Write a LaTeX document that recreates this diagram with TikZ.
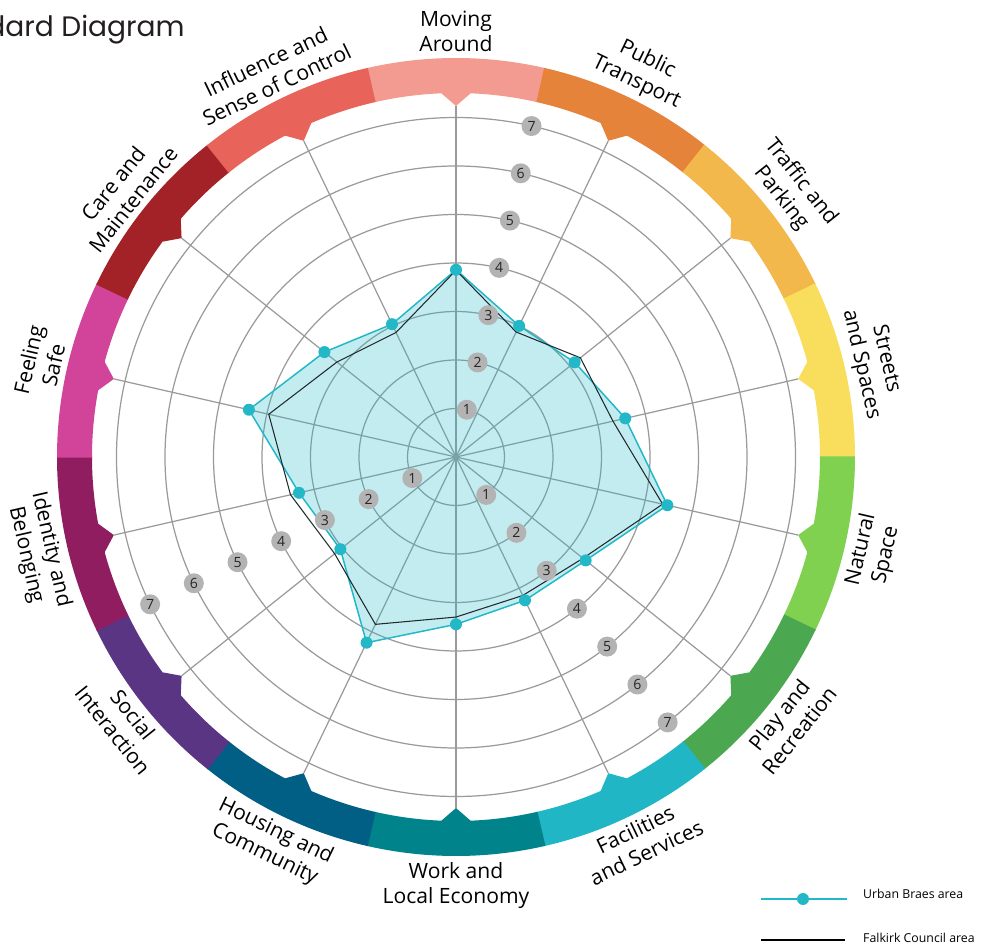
\documentclass[tikz,border=0pt]{standalone}
\usepackage{fontspec}
\setmainfont{Open Sans}
\newfontfamily\titlefont{Poppins}

\definecolor{cMove}{HTML}{F39B91}
\definecolor{cTrans}{HTML}{E5833A}
\definecolor{cTraffic}{HTML}{F2B84B}
\definecolor{cStreet}{HTML}{F9DE5E}
\definecolor{cNature}{HTML}{80D14F}
\definecolor{cPlay}{HTML}{4BA851}
\definecolor{cFacil}{HTML}{21B6C5}
\definecolor{cWork}{HTML}{00838B}
\definecolor{cHouse}{HTML}{015F86}
\definecolor{cSocial}{HTML}{5A3584}
\definecolor{cIdent}{HTML}{8F1D5F}
\definecolor{cSafe}{HTML}{D1449A}
\definecolor{cCare}{HTML}{A22228}
\definecolor{cInfl}{HTML}{E8635A}
\definecolor{urbancyan}{HTML}{22B8C8}
\definecolor{falkirkline}{HTML}{1E2A2C}
\definecolor{gridgray}{HTML}{9A9A9A}
\definecolor{badgegray}{HTML}{B3B3B3}
\definecolor{titlegray}{HTML}{231F20}

\tikzset{
	gridline/.style={gridgray, line width=0.7pt},
	badge/.style={circle, fill=badgegray, minimum size=0.4cm, inner sep=0pt,
		font=\fontsize{8}{8}\selectfont, text=black!85},
	theme/.style={align=center, font=\fontsize{12}{14.5}\selectfont, inner sep=1pt},
	urbandot/.style={circle, fill=urbancyan, minimum size=0.24cm, inner sep=0pt},
	legendtext/.style={anchor=west, font=\fontsize{7}{8}\selectfont},
}

\begin{document}
\begin{tikzpicture}[x=0.02cm, y=0.02cm]
	\useasboundingbox (-456,-493) rectangle (525,457);
	\coordinate (O) at (0,0);

	\newcommand*{\unitr}{48.5}

	\foreach \k in {1,...,7}
		\draw[gridline] (O) circle ({\k*\unitr});
	\foreach \i in {0,...,13}
		\draw[gridline] (O) -- ({90-\i*360/14}:351);

	\foreach \i / \col in {1/cMove,2/cTrans,3/cTraffic,4/cStreet,5/cNature,6/cPlay,7/cFacil,
		8/cWork,9/cHouse,10/cSocial,11/cIdent,12/cSafe,13/cCare,14/cInfl}{
		\pgfmathsetmacro{\a}{90-(\i-1)*360/14}
		\fill[\col] ({\a+12.95}:399) arc[start angle=\a+12.95, end angle=\a-12.95, radius=399]
			-- ({\a-12.95}:364) arc[start angle=\a-12.95, end angle=\a-2.3, radius=364]
			-- (\a:351) -- ({\a+2.3}:364) arc[start angle=\a+2.3, end angle=\a+12.95, radius=364] -- cycle;
	}

	\foreach \i / \lab in {1/{Moving\\Around},2/{Public\\Transport},3/{Traffic and\\Parking},
		4/{Streets\\and Spaces},12/{Feeling\\Safe},13/{Care and\\Maintenance},
		14/{Influence and\\Sense of Control}}{
		\pgfmathsetmacro{\a}{90-(\i-1)*360/14}
		\node[theme, anchor=south, rotate=\a-90] (lab\i) at (\a:403) {\lab};
	}
	\foreach \i / \lab in {5/{Natural\\Space},6/{Play and\\Recreation},7/{Facilities\\and Services},
		8/{Work and\\Local Economy},9/{Housing and\\Community},10/{Social\\Interaction},
		11/{Identity and\\Belonging}}{
		\pgfmathsetmacro{\a}{90-(\i-1)*360/14}
		\node[theme, anchor=north, rotate=\a+90] (lab\i) at (\a:403) {\lab};
	}

	\foreach \i / \v in {1/3.86,2/3.0,3/3.13,4/3.58,5/4.47,6/3.42,7/3.28,
		8/3.45,9/4.25,10/3.05,11/3.32,12/4.38,13/3.47,14/3.04}
		\coordinate (u\i) at ({90-(\i-1)*360/14}:{\v*\unitr});
	\foreach \i / \v in {1/3.85,2/2.86,3/3.28,4/3.32,5/4.37,6/3.35,7/3.17,
		8/3.3,9/3.83,10/3.2,11/3.5,12/3.96,13/3.14,14/2.85}
		\coordinate (f\i) at ({90-(\i-1)*360/14}:{\v*\unitr});

	\fill[urbancyan, fill opacity=0.27] (u1) \foreach \i in {2,...,14}{ -- (u\i)} -- cycle;
	\draw[urbancyan, line width=0.85pt] (u1) \foreach \i in {2,...,14}{ -- (u\i)} -- cycle;
	\draw[falkirkline, line width=0.6pt] (f1) \foreach \i in {2,...,14}{ -- (f\i)} -- cycle;
	\foreach \i in {1,...,14}
		\node[urbandot] (ud\i) at (u\i) {};

	\foreach \d / \s in {77.143/a, 205.714/b, -51.429/c}
		\foreach \k in {1,...,7}
			\node[badge] (\s\k) at (\d:{\k*\unitr}) {\k};

	\node[anchor=base east, inner sep=0pt, text=titlegray,
		font=\titlefont\fontsize{16}{18}\selectfont] (title) at (-271,420) {Place Standard Diagram};

	\coordinate (ua) at (305,-442);
	\coordinate (ub) at (391,-442);
	\draw[urbancyan, line width=0.8pt] (ua) -- (ub);
	\node[urbandot] (udot) at (347,-442) {};
	\node[legendtext] (lu) at (401,-437) {Urban Braes area};
	\coordinate (fa) at (305,-483);
	\coordinate (fb) at (389,-483);
	\draw[black, line width=0.7pt] (fa) -- (fb);
	\node[legendtext] (lf) at (401,-481) {Falkirk Council area};
\end{tikzpicture}
\end{document}
